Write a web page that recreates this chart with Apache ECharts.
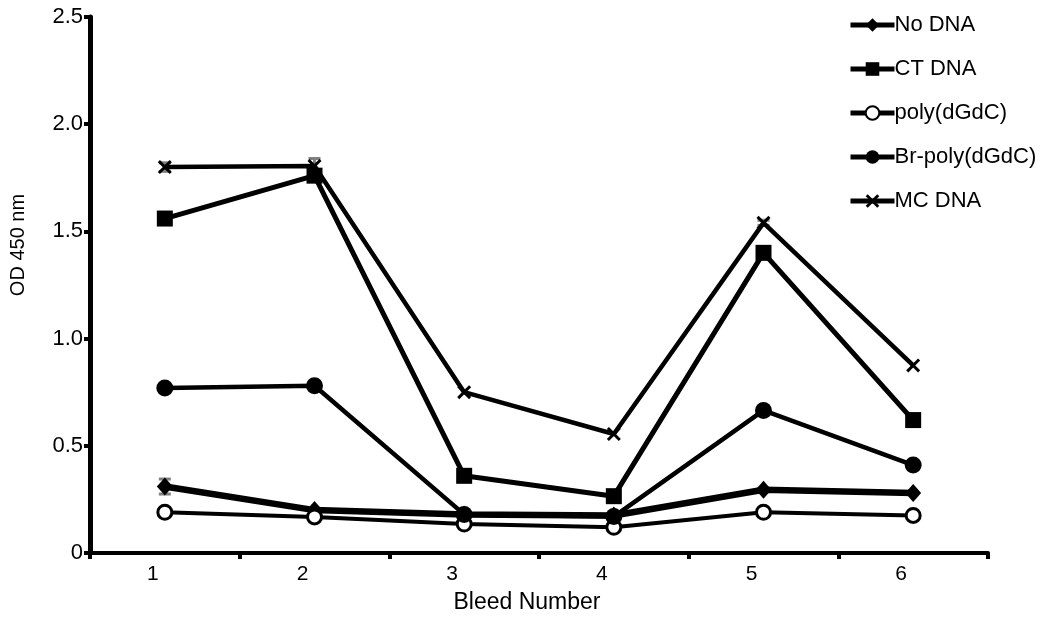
<!DOCTYPE html>
<html>
<head>
<meta charset="utf-8">
<script src="https://cdn.jsdelivr.net/npm/echarts@6/dist/echarts.min.js"></script>
<style>html,body{margin:0;padding:0;background:#fff}#c{width:1050px;height:621px}</style>
</head>
<body>
<div id="c"></div>
<script>
const categories = ['1', '2', '3', '4', '5', '6'];
const noDNA = [0.31, 0.20, 0.18, 0.175, 0.295, 0.28];
const ctDNA = [1.56, 1.76, 0.36, 0.265, 1.40, 0.62];
const polyDGDC = [0.19, 0.168, 0.135, 0.12, 0.19, 0.175];
const brPoly = [0.77, 0.78, 0.18, 0.17, 0.665, 0.41];
const mcDNA = [1.80, 1.805, 0.75, 0.555, 1.54, 0.875];
const mcErr = [0.02, 0.035, 0, 0, 0.012, 0];
const noErr = [0.035, 0, 0, 0, 0, 0];

const FONT = 'Liberation Sans, Arial, sans-serif';
const crossPath = 'path://M0,0.15 L0.15,0 L1,0.85 L0.85,1 Z M0.85,0 L1,0.15 L0.15,1 L0,0.85 Z';

function errData(vals, errs) {
  const out = [];
  vals.forEach((v, i) => { if (errs[i] > 0) out.push([i, v - errs[i], v + errs[i]]); });
  return out;
}

function errSeries(vals, errs) {
  return {
    type: 'custom',
    z: 1,
    silent: true,
    data: errData(vals, errs),
    renderItem: function (params, api) {
      const x = api.value(0);
      const lo = api.coord([x, api.value(1)]);
      const hi = api.coord([x, api.value(2)]);
      const w = 6;
      const style = { stroke: '#808080', lineWidth: 3 };
      return {
        type: 'group',
        children: [
          { type: 'line', shape: { x1: lo[0], y1: lo[1], x2: hi[0], y2: hi[1] }, style: style },
          { type: 'line', shape: { x1: lo[0] - w, y1: lo[1], x2: lo[0] + w, y2: lo[1] }, style: style },
          { type: 'line', shape: { x1: hi[0] - w, y1: hi[1], x2: hi[0] + w, y2: hi[1] }, style: style }
        ]
      };
    }
  };
}

const chart = echarts.init(document.getElementById('c'), null, { renderer: 'canvas' });
chart.setOption({
  backgroundColor: '#fff',
  animation: false,
  textStyle: { fontFamily: FONT, color: '#000' },
  grid: { left: 89, right: 62, top: 17, bottom: 68, containLabel: false },
  legend: {
    orient: 'vertical',
    left: 843,
    top: 9,
    itemWidth: 44,
    itemHeight: 17,
    itemGap: 22,
    lineStyle: { width: 5 },
    textStyle: { fontFamily: FONT, fontSize: 22, color: '#000', padding: [0, 0, 0, -5] },
    data: ['No DNA', 'CT DNA', 'poly(dGdC)', 'Br-poly(dGdC)', 'MC DNA']
  },
  xAxis: {
    type: 'category',
    data: categories,
    boundaryGap: true,
    name: 'Bleed Number',
    nameLocation: 'middle',
    nameGap: 38,
    nameTextStyle: { fontFamily: FONT, fontSize: 23, color: '#000', padding: [0, 24, 0, 0] },
    axisLine: { lineStyle: { color: '#000', width: 4 } },
    axisTick: { show: true, length: 6, lineStyle: { color: '#000', width: 4 } },
    axisLabel: { fontFamily: FONT, fontSize: 21, color: '#000', margin: 11, padding: [0, 24, 0, 0] },
    splitLine: { show: false }
  },
  yAxis: {
    type: 'value',
    min: 0,
    max: 2.5,
    interval: 0.5,
    name: 'OD 450 nm',
    nameLocation: 'middle',
    nameGap: 62,
    nameTextStyle: { fontFamily: FONT, fontSize: 20, color: '#000', padding: [0, 0, 0, 80] },
    axisLine: { show: true, lineStyle: { color: '#000', width: 5 } },
    axisTick: { show: true, inside: false, length: 6, lineStyle: { color: '#000', width: 4 } },
    axisLabel: {
      fontFamily: FONT, fontSize: 22, color: '#000', margin: 7,
      formatter: function (v) { return v === 0 ? '0' : v.toFixed(1); }
    },
    splitLine: { show: false }
  },
  series: [
    errSeries(mcDNA, mcErr),
    errSeries(noDNA, noErr),
    {
      name: 'No DNA', type: 'line', data: noDNA, z: 3,
      symbol: 'diamond', symbolSize: [16, 18],
      lineStyle: { color: '#000', width: 6.5 },
      itemStyle: { color: '#000' }
    },
    {
      name: 'CT DNA', type: 'line', data: ctDNA, z: 3,
      symbol: 'rect', symbolSize: 16,
      lineStyle: { color: '#000', width: 5 },
      itemStyle: { color: '#000' }
    },
    {
      name: 'poly(dGdC)', type: 'line', data: polyDGDC, z: 3,
      symbol: 'circle', symbolSize: 14,
      lineStyle: { color: '#000', width: 4 },
      itemStyle: { color: '#fff', borderColor: '#000', borderWidth: 3 }
    },
    {
      name: 'Br-poly(dGdC)', type: 'line', data: brPoly, z: 3,
      symbol: 'circle', symbolSize: 17,
      lineStyle: { color: '#000', width: 4.5 },
      itemStyle: { color: '#000' }
    },
    {
      name: 'MC DNA', type: 'line', data: mcDNA, z: 3,
      symbol: crossPath, symbolSize: 14,
      lineStyle: { color: '#000', width: 4.5 },
      itemStyle: { color: '#000' }
    }
  ]
});
</script>
</body>
</html>
